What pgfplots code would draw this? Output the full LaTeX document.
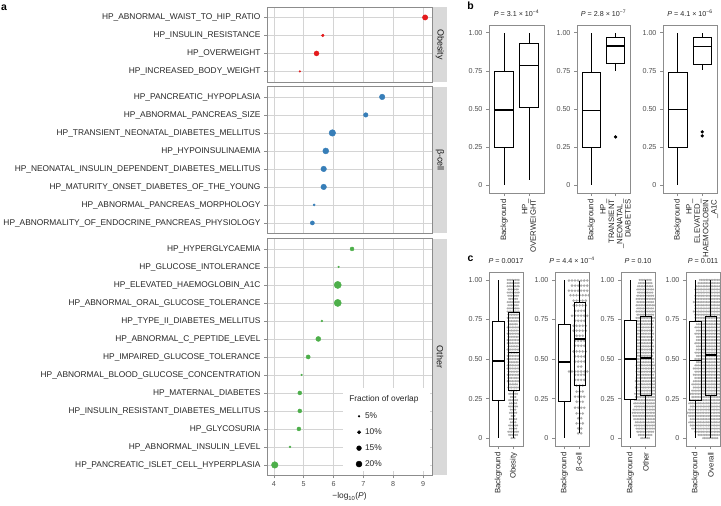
\documentclass[border=0pt]{standalone}
\usepackage{pgfplots}
\pgfplotsset{compat=1.18}
\usepgfplotslibrary{statistics}
\usepackage{fontspec}
\setmainfont{Liberation Sans}
\definecolor{cobes}{HTML}{E41A1C}
\definecolor{cbeta}{HTML}{377EB8}
\definecolor{coth}{HTML}{4DAF4A}
\definecolor{tickc}{HTML}{4D4D4D}
\definecolor{framec}{HTML}{8C8C8C}
\definecolor{gridc}{HTML}{D4D4D4}
\definecolor{stripc}{HTML}{D9D9D9}
\definecolor{dotc}{HTML}{ABABAB}
\newcommand{\fsa}{\fontsize{8.4}{9}\selectfont}
\newcommand{\fsb}{\fontsize{7.8}{8.4}\selectfont}
\newcommand{\fst}{\fontsize{7.2}{8}\selectfont}
\newcommand{\fsp}{\fontsize{7.2}{8}\selectfont}
\pgfplotsset{
  afacet/.style={scale only axis, width=165bp, anchor=north west,
    xmin=3.77, xmax=9.3, xtick={4,5,6,7,8,9}, xticklabels={4,5,6,7,8,9},
    ymin=0.42,
    grid=major, major grid style={gridc, line width=0.5bp},
    axis line style={framec, line width=0.6bp},
    tick style={framec, line width=0.5bp},
    tick align=outside, major tick length=3bp, tick pos=left,
    xticklabel style={font=\fst, text=tickc},
    yticklabel style={font=\fsa, text=black!85}},
  dotsty/.style={scatter, only marks, mark=*, scatter/use mapped color={draw=#1, fill=#1},
    visualization depends on={\thisrow{r} \as \rr},
    scatter/@pre marker code/.append style={/tikz/mark size=\rr}},
  bbox/.style={scale only axis, anchor=north west, xmin=0.4, xmax=2.6, ymin=-0.05, ymax=1.05,
    xtick={1,2}, ytick={0,0.25,0.5,0.75,1}, yticklabels={0,0.25,0.50,0.75,1.00},
    axis line style={framec, line width=0.6bp}, tick style={framec, line width=0.5bp},
    tick align=outside, major tick length=3bp, tick pos=left,
    yticklabel style={font=\fst, text=tickc},
    xticklabel style={font=\fsb, text=black!85, rotate=90, anchor=east, align=right},
    title style={font=\fsp, text=black!85, at={(0.5,1)}, anchor=south, yshift=-1.5bp},
    boxplot/draw direction=y, boxplot/box extend=0.75, boxplot/whisker extend=0,
    boxplot/every median/.style={line width=1.5bp}},
  bxs/.style={black, line width=0.7bp, mark=*, mark size=1.3bp, mark options={fill=black, draw=black}},
  swarm/.style={forget plot, quiver={u=2*\thisrow{e}, v=0},
    quiver/every arrow/.style={dotc, line width=2.2bp, line cap=round, dash pattern=on 0bp off 1.6bp},
    draw=none, mark=none},
  swarmb/.style={forget plot, quiver={u=2*\thisrow{e}, v=0},
    quiver/every arrow/.style={dotc, line width=2.8bp, line cap=round, dash pattern=on 0bp off 3.05bp},
    draw=none, mark=none},
}
\begin{document}
\begin{tikzpicture}
\useasboundingbox (0,0) rectangle (721bp,-506bp);
% ---------------- panel a ----------------
\begin{axis}[afacet, at={(267bp,-7bp)}, ymax=4.58, height=74.88bp, xticklabels={}, xmajorticks=false,
  ytick={1,2,3,4}, yticklabels={HP\_INCREASED\_BODY\_WEIGHT,HP\_OVERWEIGHT,HP\_INSULIN\_RESISTANCE,HP\_ABNORMAL\_WAIST\_TO\_HIP\_RATIO}]
\addplot[dotsty=cobes] table {
x y r
9.07 4 2.7
5.64 3 1.4
5.43 2 2.5
4.87 1 0.85
};
\end{axis}
\begin{axis}[afacet, at={(267bp,-86.5bp)}, ymax=8.58, height=146.88bp, xticklabels={}, xmajorticks=false,
  ytick={1,...,8}, yticklabels={HP\_ABNORMALITY\_OF\_ENDOCRINE\_PANCREAS\_PHYSIOLOGY,HP\_ABNORMAL\_PANCREAS\_MORPHOLOGY,HP\_MATURITY\_ONSET\_DIABETES\_OF\_THE\_YOUNG,HP\_NEONATAL\_INSULIN\_DEPENDENT\_DIABETES\_MELLITUS,HP\_HYPOINSULINAEMIA,HP\_TRANSIENT\_NEONATAL\_DIABETES\_MELLITUS,HP\_ABNORMAL\_PANCREAS\_SIZE,HP\_PANCREATIC\_HYPOPLASIA}]
\addplot[dotsty=cbeta] table {
x y r
7.63 8 2.8
7.08 7 2.3
5.96 6 3.3
5.74 5 3.0
5.67 4 2.8
5.67 3 2.8
5.35 2 1.1
5.29 1 2.1
};
\end{axis}
\begin{axis}[afacet, at={(267bp,-238.5bp)}, ymax=13.58, height=236.88bp,
  ytick={1,...,13}, yticklabels={HP\_PANCREATIC\_ISLET\_CELL\_HYPERPLASIA,HP\_ABNORMAL\_INSULIN\_LEVEL,HP\_GLYCOSURIA,HP\_INSULIN\_RESISTANT\_DIABETES\_MELLITUS,HP\_MATERNAL\_DIABETES,HP\_ABNORMAL\_BLOOD\_GLUCOSE\_CONCENTRATION,HP\_IMPAIRED\_GLUCOSE\_TOLERANCE,HP\_ABNORMAL\_C\_PEPTIDE\_LEVEL,HP\_TYPE\_II\_DIABETES\_MELLITUS,HP\_ABNORMAL\_ORAL\_GLUCOSE\_TOLERANCE,HP\_ELEVATED\_HAEMOGLOBIN\_A1C,HP\_GLUCOSE\_INTOLERANCE,HP\_HYPERGLYCAEMIA},
  xlabel={−log\textsubscript{10}(\textit{P})}, xlabel style={font=\fsa, text=black!85, yshift=1bp},
  legend style={at={(axis cs:6.68,4.08)}, anchor=north west, draw=none, fill=white, font=\fsa, text=black!85, row sep=4.6bp, inner sep=1bp},
  legend cell align=left,
  legend image code/.code={\path[draw=none, fill=none] (0bp,-1bp) rectangle (8bp,1bp); \draw[#1] plot coordinates {(4bp,0bp)};}]
\addplot[dotsty=coth, forget plot] table {
x y r
6.62 13 2.0
6.17 12 0.85
6.14 11 3.6
6.14 10 3.6
5.61 9 1.0
5.49 8 2.5
5.15 7 2.1
4.93 6 0.85
4.87 5 2.0
4.87 4 2.0
4.84 3 2.0
4.54 2 1.0
4.03 1 3.3
};
\fill[white] (axis cs:6.317,5.27) rectangle (axis cs:9.233,0.66);
\node[font=\fsa, text=black!85, anchor=west, inner sep=0bp] at (axis cs:6.52,4.66) {Fraction of overlap};
\addlegendimage{only marks, mark=*, black, mark size=0.85bp}
\addlegendentry{5\%}
\addlegendimage{only marks, mark=*, black, mark size=1.7bp}
\addlegendentry{10\%}
\addlegendimage{only marks, mark=*, black, mark size=2.4bp}
\addlegendentry{15\%}
\addlegendimage{only marks, mark=*, black, mark size=3.0bp}
\addlegendentry{20\%}
\end{axis}
% strips
\fill[stripc] (433bp,-7bp) rectangle (447bp,-81.88bp);
\node[rotate=-90, font=\fontsize{9}{10}\selectfont, text=black!90] at (440bp,-44.44bp) {Obesity};
\fill[stripc] (433bp,-86.5bp) rectangle (447bp,-233.38bp);
\node[rotate=-90, font=\fontsize{9}{10}\selectfont, text=black!90] at (440bp,-159.94bp) {β-cell};
\fill[stripc] (433bp,-238.5bp) rectangle (447bp,-475.38bp);
\node[rotate=-90, font=\fontsize{9}{10}\selectfont, text=black!90] at (440bp,-356.94bp) {Other};
% letters
\node[font=\bfseries\fontsize{10.5}{12}\selectfont] at (4bp,-7.5bp) {a};
\node[font=\bfseries\fontsize{10.5}{12}\selectfont] at (470.5bp,-6bp) {b};
\node[font=\bfseries\fontsize{10.5}{12}\selectfont] at (470.5bp,-258.5bp) {c};
% ---------------- panel b ----------------
\begin{axis}[bbox, at={(489bp,-25bp)}, width=55bp, height=168bp,
  xticklabels={Background,{HP\_\\OVERWEIGHT}},
  title={\textit{P} = 3.1 × 10\textsuperscript{−4}}]
\addplot[bxs, boxplot prepared={draw position=1, lower whisker=0, lower quartile=0.25, median=0.495, upper quartile=0.747, upper whisker=1}] coordinates {};
\addplot[bxs, boxplot prepared={draw position=2, lower whisker=0.033, lower quartile=0.509, median=0.784, upper quartile=0.93, upper whisker=1}] coordinates {};
\end{axis}
\begin{axis}[bbox, at={(577bp,-25bp)}, width=53bp, height=168bp,
  xticklabels={Background,{HP\_\\TRANSIENT\\\_NEONATAL\_\\DIABETES}},
  title={\textit{P} = 2.8 × 10\textsuperscript{−7}}]
\addplot[bxs, boxplot prepared={draw position=1, lower whisker=0, lower quartile=0.248, median=0.491, upper quartile=0.737, upper whisker=1}] coordinates {};
\addplot[bxs, boxplot prepared={draw position=2, lower whisker=0.752, lower quartile=0.802, median=0.914, upper quartile=0.966, upper whisker=0.996}] table[row sep=\\, y index=0] {data\\ 0.317\\};
\end{axis}
\begin{axis}[bbox, at={(663bp,-25bp)}, width=54bp, height=168bp,
  xticklabels={Background,{HP\_\\ELEVATED\_\\HAEMOGLOBIN\\\_A1C}},
  title={\textit{P} = 4.1 × 10\textsuperscript{−6}}]
\addplot[bxs, boxplot prepared={draw position=1, lower whisker=0, lower quartile=0.247, median=0.496, upper quartile=0.742, upper whisker=1}] coordinates {};
\addplot[bxs, boxplot prepared={draw position=2, lower whisker=0.753, lower quartile=0.795, median=0.91, upper quartile=0.967, upper whisker=1}] table[row sep=\\, y index=0] {data\\ 0.35\\ 0.324\\};
\end{axis}
% ---------------- panel c ----------------
\begin{axis}[bbox, at={(489bp,-272bp)}, width=34bp, height=174bp,
  xticklabels={Background,Obesity},
  title={\textit{P} = 0.0017}]
\addplot[swarm] table[x expr=2-\thisrow{e}, y=y] {
y e
0.00 0.15
0.02 0.30
0.04 0.35
0.06 0.25
0.08 0.30
0.10 0.20
0.12 0.25
0.14 0.15
0.16 0.25
0.18 0.20
0.20 0.30
0.22 0.25
0.24 0.30
0.26 0.20
0.28 0.30
0.30 0.25
0.32 0.35
0.34 0.30
0.36 0.40
0.38 0.35
0.40 0.40
0.42 0.35
0.44 0.40
0.46 0.40
0.48 0.35
0.50 0.40
0.52 0.40
0.54 0.35
0.56 0.40
0.58 0.35
0.60 0.40
0.62 0.40
0.64 0.35
0.66 0.40
0.68 0.35
0.70 0.40
0.72 0.30
0.74 0.35
0.76 0.40
0.78 0.35
0.80 0.40
0.82 0.40
0.84 0.35
0.86 0.40
0.88 0.30
0.90 0.35
0.92 0.40
0.94 0.35
0.96 0.40
0.98 0.40
1.00 0.40
};
\addplot[bxs, boxplot prepared={draw position=1, lower whisker=0, lower quartile=0.241, median=0.488, upper quartile=0.74, upper whisker=1}] coordinates {};
\addplot[bxs, boxplot prepared={draw position=2, lower whisker=0, lower quartile=0.30, median=0.541, upper quartile=0.795, upper whisker=1}] coordinates {};
\end{axis}
\begin{axis}[bbox, at={(555bp,-272bp)}, width=34bp, height=174bp,
  xticklabels={Background,β-cell},
  title={\textit{P} = 4.4 × 10\textsuperscript{−4}}]
\addplot[swarmb] table[x expr=2-\thisrow{e}, y=y] {
y e
0.996 0.7
0.964 0.5
0.932 0.7
0.903 0.6
0.869 0.4
0.839 0.4
0.805 0.3
0.774 0.5
0.742 0.3
0.710 0.4
0.679 0.4
0.647 0.2
0.615 0.3
0.584 0.3
0.548 0.4
0.516 0.3
0.484 0.3
0.452 0.1
0.421 0.7
0.400 0.3
0.368 0.3
0.332 0.2
0.294 0.2
0.262 0.3
0.230 0.2
0.192 0.3
0.156 0.2
0.125 0.1
0.093 0.2
0.061 0.1
0.030 0.1
};
\addplot[bxs, boxplot prepared={draw position=1, lower whisker=0, lower quartile=0.235, median=0.48, upper quartile=0.719, upper whisker=1}] coordinates {};
\addplot[bxs, boxplot prepared={draw position=2, lower whisker=0.03, lower quartile=0.336, median=0.628, upper quartile=0.86, upper whisker=0.99}] coordinates {};
\end{axis}
\begin{axis}[bbox, at={(621bp,-272bp)}, width=34bp, height=174bp,
  xticklabels={Background,Other},
  title={\textit{P} = 0.10}]
\addplot[swarm] table[x expr=2-\thisrow{e}, y=y] {
y e
0.00 0.30
0.02 0.45
0.04 0.55
0.06 0.60
0.08 0.70
0.10 0.65
0.12 0.75
0.14 0.80
0.16 0.85
0.18 0.80
0.20 0.70
0.22 0.75
0.24 0.70
0.26 0.65
0.28 0.70
0.30 0.60
0.32 0.65
0.34 0.60
0.36 0.65
0.38 0.60
0.40 0.55
0.42 0.60
0.44 0.55
0.46 0.60
0.48 0.55
0.50 0.55
0.52 0.50
0.54 0.55
0.56 0.50
0.58 0.55
0.60 0.50
0.62 0.55
0.64 0.50
0.66 0.55
0.68 0.50
0.70 0.55
0.72 0.50
0.74 0.55
0.76 0.60
0.78 0.55
0.80 0.60
0.82 0.55
0.84 0.60
0.86 0.55
0.88 0.60
0.90 0.55
0.92 0.50
0.94 0.55
0.96 0.50
0.98 0.45
1.00 0.40
};
\addplot[bxs, boxplot prepared={draw position=1, lower whisker=0, lower quartile=0.243, median=0.499, upper quartile=0.744, upper whisker=1}] coordinates {};
\addplot[bxs, boxplot prepared={draw position=2, lower whisker=0, lower quartile=0.268, median=0.507, upper quartile=0.77, upper whisker=1}] coordinates {};
\end{axis}
\begin{axis}[bbox, at={(686bp,-272bp)}, width=34bp, height=174bp,
  xticklabels={Background,Overall},
  title={\textit{P} = 0.011}]
\addplot[swarm] table[x expr=2-\thisrow{e}, y=y] {
y e
0.00 0.5
0.02 0.8
0.04 1.0
0.06 1.2
0.08 1.3
0.10 1.4
0.12 1.3
0.14 1.4
0.16 1.5
0.18 1.4
0.20 1.3
0.22 1.4
0.24 1.3
0.26 1.2
0.28 1.3
0.30 1.2
0.32 1.1
0.34 1.2
0.36 1.1
0.38 1.0
0.40 1.1
0.42 1.0
0.44 1.1
0.46 1.0
0.48 0.9
0.50 1.0
0.52 0.9
0.54 1.0
0.56 0.9
0.58 0.9
0.60 1.0
0.62 0.9
0.64 0.9
0.66 1.0
0.68 0.9
0.70 1.0
0.72 0.9
0.74 1.0
0.76 1.0
0.78 1.0
0.80 1.1
0.82 1.0
0.84 1.0
0.86 1.1
0.88 1.0
0.90 1.0
0.92 0.9
0.94 1.0
0.96 0.9
0.98 0.8
1.00 0.7
};
\addplot[bxs, boxplot prepared={draw position=1, lower whisker=0, lower quartile=0.239, median=0.49, upper quartile=0.74, upper whisker=1}] coordinates {};
\addplot[bxs, boxplot prepared={draw position=2, lower whisker=0, lower quartile=0.27, median=0.524, upper quartile=0.77, upper whisker=1}] coordinates {};
\end{axis}
\end{tikzpicture}
\end{document}
